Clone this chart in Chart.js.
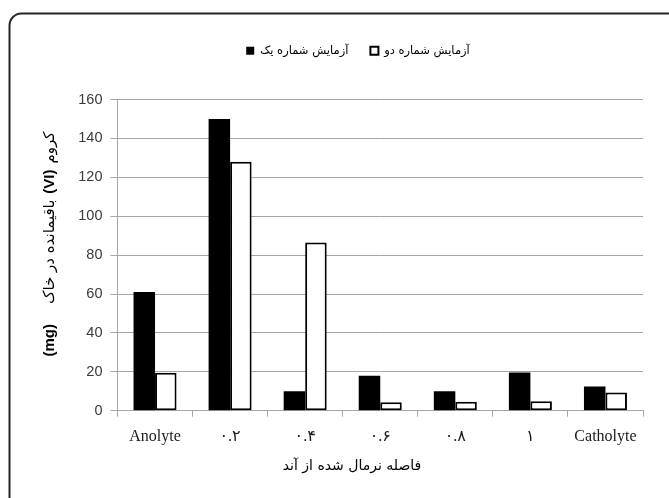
<!DOCTYPE html>
<html lang="fa">
<head>
<meta charset="utf-8">
<title>کروم باقیمانده در خاک</title>
<script src="https://cdn.jsdelivr.net/npm/chart.js@4.4.1/dist/chart.umd.min.js"></script>
<style>
    html, body { margin: 0; padding: 0; background: #fff; }
    .chart-box { position: relative; width: 669px; height: 498px; }
</style>
</head>
<body>
<div class="chart-box"><canvas id="cromoChart"></canvas></div>
<script>
// Datos
const categorias = ['Anolyte', '۰.۲', '۰.۴', '۰.۶', '۰.۸', '۱', 'Catholyte'];
const ensayoUno = [61, 150, 10, 18, 10, 19.6, 12.4];
const ensayoDos = [19.5, 128, 86.5, 4.3, 4.6, 4.8, 9.3];
const ticksY = [0, 20, 40, 60, 80, 100, 120, 140, 160];

const nombresSeries = ['آزمایش شماره یک', 'آزمایش شماره دو'];
const tituloX = 'فاصله نرمال شده از آند';
// título del eje Y, en orden visual de abajo hacia arriba
const tituloY = [
    { text: '(mg)', bold: true },
    { text: 'باقیمانده در خاک', bold: false },
    { text: '(VI)', bold: true },
    { text: 'کروم', bold: false }
];

// Espacio extra debajo de la leyenda (la leyenda no tiene opción para eso)
const leyendaPlugin = {
    id: 'leyendaAlta',
    beforeLayout(chart) {
        const lg = chart.legend;
        if (lg && !lg._alto) {
            const fit = lg.fit.bind(lg);
            lg.fit = function () {
                fit();
                this.height += 33;
            };
            lg._alto = true;
        }
    }
};

// Marco redondeado y títulos de los ejes
const marcoPlugin = {
    id: 'marco',
    beforeDraw(chart) {
        const ctx = chart.ctx;
        ctx.save();
        ctx.fillStyle = '#fff';
        ctx.fillRect(0, 0, chart.width, chart.height);
        ctx.restore();
    },
    afterDraw(chart) {
        const ctx = chart.ctx;
        ctx.save();
        ctx.strokeStyle = '#262626';
        ctx.lineWidth = 2;
        ctx.beginPath();
        ctx.roundRect(9.5, 13.5, 672, 496, 12);
        ctx.stroke();

        // título X
        ctx.fillStyle = '#000';
        ctx.font = '14px "DejaVu Sans"';
        ctx.textAlign = 'center';
        ctx.textBaseline = 'middle';
        ctx.direction = 'rtl';
        ctx.fillText(tituloX, 352, 466);

        // título Y con partes en negrita
        const gaps = [20, 6, 6];
        const fontOf = p => p.bold ? 'bold 15px "Liberation Sans", Arial' : '15px "DejaVu Sans"';
        let total = 0;
        const widths = tituloY.map(p => {
            ctx.font = fontOf(p);
            return ctx.measureText(p.text).width;
        });
        widths.forEach((w, i) => { total += w + (gaps[i] || 0); });

        ctx.translate(50, 244);
        ctx.rotate(-Math.PI / 2);
        ctx.textAlign = 'left';
        let x = -total / 2;
        tituloY.forEach((p, i) => {
            ctx.font = fontOf(p);
            ctx.direction = p.bold ? 'ltr' : 'rtl';
            ctx.fillText(p.text, x, 0);
            x += widths[i] + (gaps[i] || 0);
        });
        ctx.restore();
    }
};

new Chart(document.getElementById('cromoChart'), {
    type: 'bar',
    data: {
        labels: categorias,
        datasets: [
            {
                label: nombresSeries[0],
                data: ensayoUno,
                backgroundColor: '#000',
                borderColor: '#000',
                borderWidth: 0,
                categoryPercentage: 0.573,
                barPercentage: 1
            },
            {
                label: nombresSeries[1],
                data: ensayoDos,
                backgroundColor: '#fff',
                borderColor: '#000',
                borderWidth: 2,
                borderSkipped: false,
                categoryPercentage: 0.573,
                barPercentage: 1
            }
        ]
    },
    options: {
        responsive: true,
        maintainAspectRatio: false,
        animation: false,
        layout: { padding: { left: 73, right: 26, top: 23, bottom: 18 } },
        plugins: {
            legend: {
                position: 'top',
                labels: {
                    boxWidth: 8,
                    boxHeight: 8,
                    padding: 22,
                    color: '#000',
                    font: { family: '"DejaVu Sans"', size: 11.5 }
                }
            },
            tooltip: { enabled: false }
        },
        scales: {
            x: {
                offset: true,
                grid: { display: true, offset: true, drawOnChartArea: false, drawTicks: true, tickLength: 6, color: '#a6a6a6' },
                border: { display: true, color: '#a6a6a6', width: 1 },
                ticks: { color: '#1a1a1a', padding: 10, font: { family: '"Liberation Serif", "DejaVu Sans"', size: 16 } },
                afterFit(scale) { scale.height = 69.3; }
            },
            y: {
                min: ticksY[0],
                max: ticksY[ticksY.length - 1],
                ticks: {
                    stepSize: ticksY[1] - ticksY[0],
                    color: '#3a3a3a',
                    padding: 8,
                    font: { family: '"Liberation Sans"', size: 14.5 }
                },
                grid: { color: '#a6a6a6', lineWidth: 1, drawTicks: true, tickLength: 7 },
                border: { display: true, color: '#a6a6a6', width: 1 },
                afterFit(scale) { scale.width = 44.5; }
            }
        }
    },
    plugins: [leyendaPlugin, marcoPlugin]
});
</script>
</body>
</html>
